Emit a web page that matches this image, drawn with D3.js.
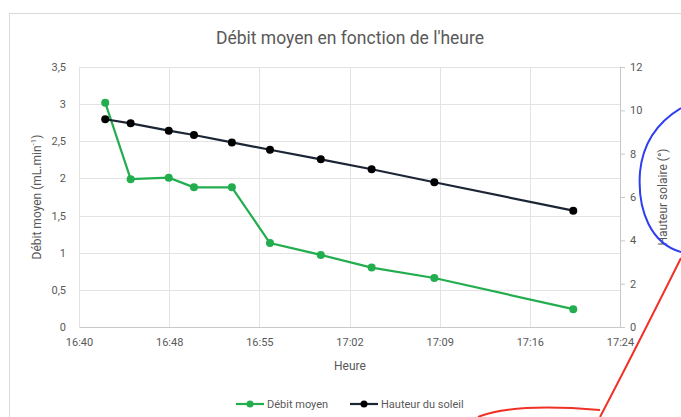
<!DOCTYPE html>
<html>
<head>
<meta charset="utf-8">
<script src="https://cdn.jsdelivr.net/npm/d3@7"></script>
<style>
  body { margin: 0; background: #fff; }
  text { font-family: Roboto, "Liberation Sans", sans-serif; fill: #595959; }
</style>
</head>
<body>
<svg id="chart" width="681" height="417"></svg>
<script>
const times = ['16:42:08', '16:44:12', '16:47:18', '16:49:21', '16:52:26', '16:55:32', '16:59:40', '17:03:48', '17:08:54', '17:20:12']
const debit = [3.02, 1.99, 2.01, 1.88, 1.88, 1.13, 0.97, 0.80, 0.66, 0.24]
const hauteur = [9.59, 9.40, 9.06, 8.86, 8.52, 8.18, 7.74, 7.28, 6.68, 5.37]
const xTickLabels = ['16:40', '16:48', '16:55', '17:02', '17:09', '17:16', '17:24']
const leftTicks = [0, 0.5, 1, 1.5, 2, 2.5, 3, 3.5]
const rightTicks = [0, 2, 4, 6, 8, 10, 12]

const parse = d3.timeParse('%H:%M:%S')
const green = '#22ad4e'
const navy = '#1c2535'

const width = 681
const margin = { top: 67, right: 61, bottom: 90, left: 79 }
const plotW = width - margin.left - margin.right
const plotH = 417 - margin.top - margin.bottom

const svg = d3.select('#chart')

// chart frame
svg.append('rect')
  .attr('x', 9.5).attr('y', 13.5)
  .attr('width', 700).attr('height', 420)
  .attr('fill', '#fff').attr('stroke', '#d9d9d9')

const t0 = parse('16:40:00')
const t1 = parse('17:24:00')
const x = d3.scaleTime().domain([t0, t1]).range([0, plotW])
const yL = d3.scaleLinear().domain([0, 3.5]).range([plotH, 0])
const yR = d3.scaleLinear().domain([0, 12]).range([plotH, 0])

const xTicks = xTickLabels.map((l, i) => new Date(+t0 + (t1 - t0) * i / (xTickLabels.length - 1)))

const g = svg.append('g').attr('transform', `translate(${margin.left},${margin.top})`)

// gridlines
g.append('g').selectAll('line.h')
  .data(leftTicks.slice(1))
  .join('line')
  .attr('x1', 0).attr('x2', plotW)
  .attr('y1', d => Math.round(yL(d)) + 0.5).attr('y2', d => Math.round(yL(d)) + 0.5)
  .attr('stroke', '#e3e3e3')
g.append('g').selectAll('line.v')
  .data(xTicks)
  .join('line')
  .attr('y1', 0).attr('y2', plotH)
  .attr('x1', d => Math.round(x(d)) + 0.5).attr('x2', d => Math.round(x(d)) + 0.5)
  .attr('stroke', '#e3e3e3')

const comma = d => String(d).replace('.', ',')

// bottom axis
const xAxis = g.append('g')
  .attr('transform', `translate(0,${plotH})`)
  .call(d3.axisBottom(x).tickValues(xTicks).tickSize(0).tickPadding(11)
    .tickFormat((d, i) => xTickLabels[i]))
xAxis.select('.domain').attr('stroke', '#c8c8c8')
xAxis.selectAll('text').style('font-size', '11px')

// left axis
const lAxis = g.append('g')
  .call(d3.axisLeft(yL).tickValues(leftTicks).tickSize(0).tickPadding(13).tickFormat(comma))
lAxis.select('.domain').remove()
lAxis.selectAll('text').style('font-size', '11px')

// right axis
const rAxis = g.append('g')
  .attr('transform', `translate(${plotW},0)`)
  .call(d3.axisRight(yR).tickValues(rightTicks).tickSizeInner(5).tickSizeOuter(0).tickPadding(5))
rAxis.select('.domain').attr('stroke', '#c8c8c8')
rAxis.selectAll('.tick line').attr('stroke', '#c8c8c8')
rAxis.selectAll('text').style('font-size', '11px')

// series
const lineDebit = d3.line().x((d, i) => x(parse(times[i]))).y(d => yL(d))
const lineHaut = d3.line().x((d, i) => x(parse(times[i]))).y(d => yR(d))

g.append('path').datum(debit)
  .attr('d', lineDebit).attr('fill', 'none').attr('stroke', green).attr('stroke-width', 2.2)
g.append('g').selectAll('circle')
  .data(debit).join('circle')
  .attr('cx', (d, i) => x(parse(times[i]))).attr('cy', d => yL(d))
  .attr('r', 4).attr('fill', green)

g.append('path').datum(hauteur)
  .attr('d', lineHaut).attr('fill', 'none').attr('stroke', navy).attr('stroke-width', 2.2)
g.append('g').selectAll('circle')
  .data(hauteur).join('circle')
  .attr('cx', (d, i) => x(parse(times[i]))).attr('cy', d => yR(d))
  .attr('r', 4).attr('fill', '#000')

// titles
svg.append('text')
  .attr('x', 350).attr('y', 44)
  .attr('text-anchor', 'middle')
  .style('font-size', '17.5px')
  .text("Débit moyen en fonction de l'heure")

svg.append('text')
  .attr('x', 350).attr('y', 370)
  .attr('text-anchor', 'middle')
  .style('font-size', '12px')
  .text('Heure')

const yTitle = svg.append('text')
  .attr('transform', `translate(41,${margin.top + plotH / 2}) rotate(-90)`)
  .attr('text-anchor', 'middle')
  .style('font-size', '12px')
yTitle.append('tspan').text('Débit moyen (mL.min')
yTitle.append('tspan').attr('dy', -5).style('font-size', '8px').text('-1')
yTitle.append('tspan').attr('dy', 5).text(')')

svg.append('text')
  .attr('transform', `translate(667,${margin.top + plotH / 2}) rotate(-90)`)
  .attr('text-anchor', 'middle')
  .style('font-size', '12px')
  .text('Hauteur solaire (°)')

// legend
const legend = svg.append('g').attr('transform', 'translate(0,404)')
const items = [
  { name: 'Débit moyen', line: green, dot: green, x: 236 },
  { name: 'Hauteur du soleil', line: navy, dot: '#000', x: 350 }
]
items.forEach(it => {
  legend.append('line').attr('x1', it.x).attr('x2', it.x + 28)
    .attr('stroke', it.line).attr('stroke-width', 2.2)
  legend.append('circle').attr('cx', it.x + 14).attr('r', 3.5).attr('fill', it.dot)
  legend.append('text').attr('x', it.x + 31).attr('y', 4)
    .style('font-size', '11px').text(it.name)
})

// hand-drawn annotations over the screenshot
svg.append('path')
  .attr('d', 'M681,108 C661,120 643,140 640,172 C637,212 652,244 681,252')
  .attr('fill', 'none').attr('stroke', '#2d3ff0').attr('stroke-width', 2)
svg.append('path')
  .attr('d', 'M681,258 C660,300 630,360 600,417')
  .attr('fill', 'none').attr('stroke', '#f03226').attr('stroke-width', 2)
svg.append('path')
  .attr('d', 'M478,417 C500,408 540,405 600,410')
  .attr('fill', 'none').attr('stroke', '#f03226').attr('stroke-width', 2)
</script>
</body>
</html>
